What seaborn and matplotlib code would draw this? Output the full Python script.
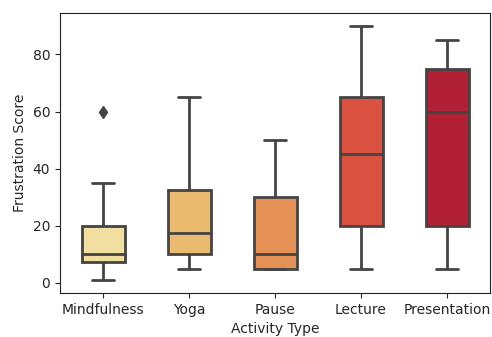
import numpy as np
import pandas as pd
import matplotlib
matplotlib.use("Agg")
import matplotlib.pyplot as plt
import seaborn as sns

activities = ["Mindfulness", "Yoga", "Pause", "Lecture", "Presentation"]
mindfulness = [1, 5, 7.5, 10, 10, 15, 20, 35, 60]
yoga = [5, 8, 10, 15, 17.5, 25, 32.5, 45, 65]
pause = [5, 5, 5, 10, 10, 20, 30, 40, 50]
lecture = [5, 10, 20, 30, 45, 55, 65, 80, 90]
presentation = [5, 10, 20, 40, 60, 70, 75, 80, 85]

scores = [mindfulness, yoga, pause, lecture, presentation]
df = pd.DataFrame({
    "Activity Type": np.repeat(activities, [len(s) for s in scores]),
    "Frustration Score": np.concatenate(scores),
})

sns.set_style("ticks")
fig, ax = plt.subplots(figsize=(4.92, 3.37), dpi=100)
sns.boxplot(data=df, x="Activity Type", y="Frustration Score", hue="Activity Type",
            palette="YlOrRd", width=0.5, saturation=0.75, linewidth=2,
            linecolor="#444444", legend=False, capwidths=0.25,
            flierprops={"marker": "d", "markerfacecolor": "#444444",
                        "markeredgecolor": "#444444", "markersize": 6},
            ax=ax)
for sp in ax.spines.values():
    sp.set_color("#222222")
ax.set_yticks([0, 20, 40, 60, 80])
fig.subplots_adjust(left=0.122, right=0.996, top=0.961, bottom=0.131)
fig.savefig("out.png")
